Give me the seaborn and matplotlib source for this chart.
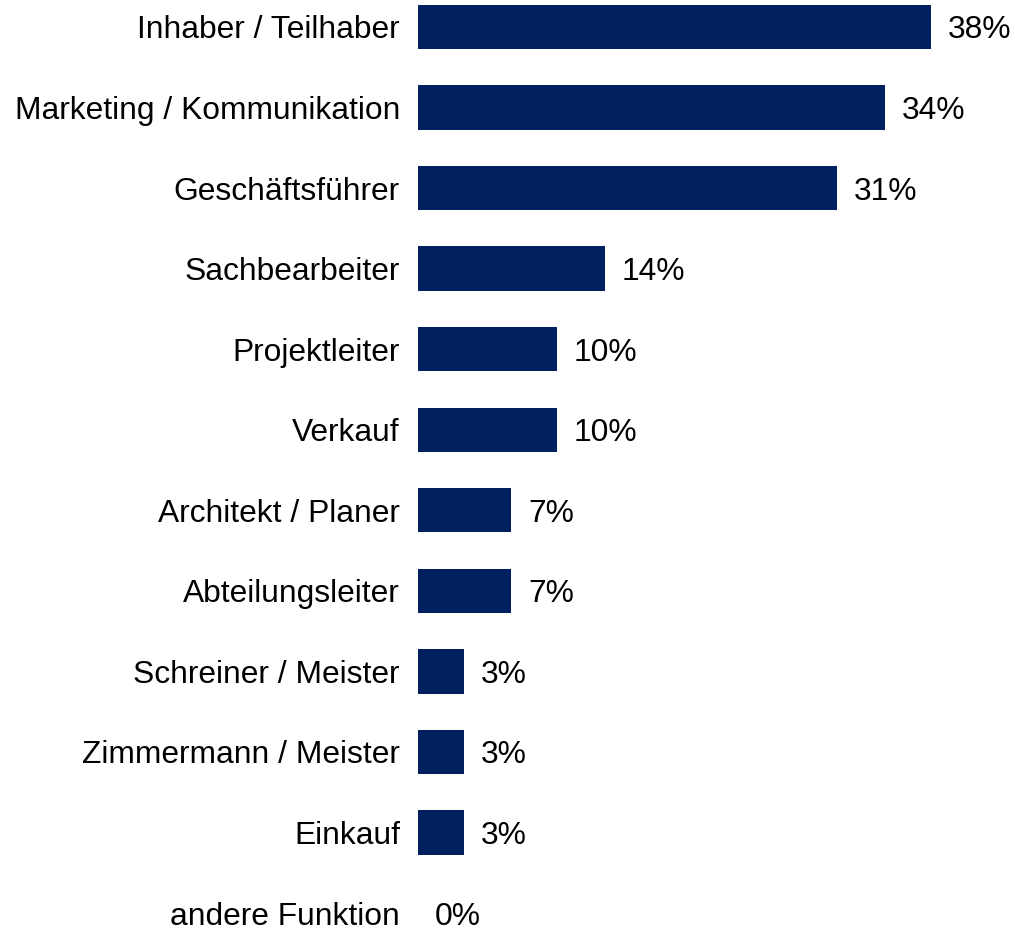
import pandas as pd
import seaborn as sns
import matplotlib.pyplot as plt

functions = ['Inhaber / Teilhaber', 'Marketing / Kommunikation', 'Geschäftsführer',
             'Sachbearbeiter', 'Projektleiter', 'Verkauf', 'Architekt / Planer',
             'Abteilungsleiter', 'Schreiner / Meister', 'Zimmermann / Meister',
             'Einkauf', 'andere Funktion']
shares = [37.9, 34.5, 31.0, 13.8, 10.3, 10.3, 6.9, 6.9, 3.4, 3.4, 3.4, 0.0]

df = pd.DataFrame({'Funktion': functions, 'Anteil': shares})

sns.set_style('white')
plt.rcParams['font.family'] = ['Liberation Sans', 'DejaVu Sans']

fig = plt.figure(figsize=(10.15, 9.3), dpi=100)
ax = fig.add_axes([418 / 1015, 0, 597 / 1015, 1])
sns.barplot(data=df, x='Anteil', y='Funktion', color='#002060', width=0.55,
            saturation=1, linewidth=0, ax=ax)

for i, v in enumerate(shares):
    ax.annotate(f'{v:.0f}%', (v, i), xytext=(12, 0), textcoords='offset points',
                va='center_baseline', ha='left', fontsize=22.9, color='#000000')

ax.set_xlim(0, 597 / 13.53)
ax.set_ylim(11.21, -0.335)
ax.set_xlabel('')
ax.set_ylabel('')
ax.set_xticks([])
ax.tick_params(axis='y', length=0, pad=13, labelsize=22.9, labelcolor='#000000')
sns.despine(ax=ax, left=True, bottom=True)

fig.savefig('out.png', dpi=100)
